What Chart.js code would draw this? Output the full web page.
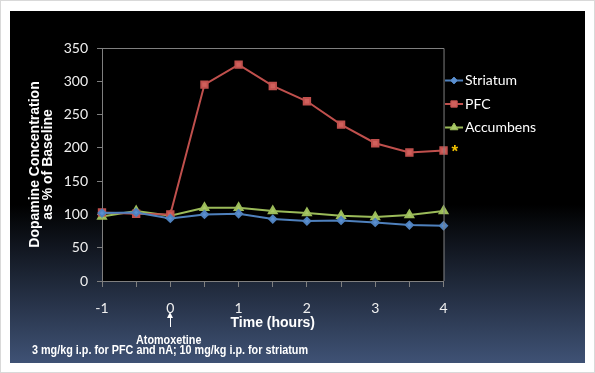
<!DOCTYPE html>
<html lang="en">
<head>
    <meta charset="UTF-8">
    <title>Dopamine Concentration</title>
    <style>
        html, body {
            margin: 0;
            padding: 0;
            background: #fff;
        }
        .frame {
            position: relative;
            width: 593px;
            height: 371px;
            border: 1px solid #d9d9d9;
            background: #fff;
            overflow: hidden;
        }
        .panel {
            position: absolute;
            left: 9px;
            top: 10px;
            width: 575px;
            height: 352px;
            background: linear-gradient(to bottom, #000 0%, #000 55%, #3f5275 100%);
        }
        .note {
            position: absolute;
            color: #fff;
            font-family: "Liberation Sans", Arial, sans-serif;
            font-weight: bold;
            font-size: 12px;
            white-space: nowrap;
            transform: scaleX(0.9);
            transform-origin: left center;
        }
        .shaft {
            position: absolute;
            left: 160px;
            top: 305px;
            width: 1px;
            height: 11px;
            background: #fff;
        }
        .head {
            position: absolute;
            left: 157px;
            top: 301px;
            width: 0;
            height: 0;
            border-left: 3.5px solid transparent;
            border-right: 3.5px solid transparent;
            border-bottom: 6px solid #fff;
        }
    </style>
</head>
<body>
    <div class="frame">
        <div class="panel">
            <canvas id="doseChart" width="575" height="352"></canvas>
            <div class="head"></div>
            <div class="shaft"></div>
            <div class="note" style="left:126px; top:322px;">Atomoxetine</div>
            <div class="note" style="left:22px; top:332px;">3 mg/kg i.p. for PFC and nA; 10 mg/kg i.p. for striatum</div>
        </div>
    </div>

    <script src="https://cdn.jsdelivr.net/npm/chart.js"></script>
    <script>
        // time points (hours)
        const hours = [-1, -0.5, 0, 0.5, 1, 1.5, 2, 2.5, 3, 3.5, 4];

        // % of baseline
        const striatum = [102, 103, 94, 100, 101, 93, 90, 91, 88, 84, 83];
        const pfc = [103, 101, 100, 295, 325, 293, 270, 235, 207, 193, 196];
        const accumbens = [97, 105, 98, 110, 110, 105, 102, 98, 96, 99, 105];

        const yTicks = [0, 50, 100, 150, 200, 250, 300, 350];
        const xTickLabels = ['-1', '0', '1', '2', '3', '4'];

        const toPoints = (vals) => vals.map((v, i) => ({ x: hours[i], y: v }));

        const tickFont = { family: 'Lato, "Open Sans", sans-serif', size: 14 };

        // black plot area, grey box round it, legend lines, star next to PFC end
        const plotBox = {
            id: 'plotBox',
            afterLayout(chart) {
                // nudge the legend closer to the plot and down a bit
                const lg = chart.legend;
                lg.left -= 5; lg.right -= 5;
                lg.top += 16; lg.bottom += 16;
            },
            beforeDraw(chart) {
                const { ctx, chartArea: a } = chart;
                ctx.save();
                ctx.fillStyle = '#000';
                ctx.fillRect(a.left, a.top, a.right - a.left, a.bottom - a.top);
                ctx.restore();
            },
            afterDraw(chart) {
                const { ctx, chartArea: a, scales } = chart;
                ctx.save();
                ctx.strokeStyle = '#7f7f7f';
                ctx.lineWidth = 1;
                ctx.beginPath();
                ctx.moveTo(a.left, a.top + 0.5);
                ctx.lineTo(a.right + 0.5, a.top + 0.5);
                ctx.lineTo(a.right + 0.5, a.bottom);
                ctx.stroke();

                chart.legend.legendHitBoxes.forEach((box, i) => {
                    const ds = chart.data.datasets[i];
                    const cy = box.top + box.height / 2;
                    ctx.strokeStyle = ds.borderColor;
                    ctx.lineWidth = 2;
                    ctx.beginPath();
                    ctx.moveTo(box.left - 3, cy);
                    ctx.lineTo(box.left + 15, cy);
                    ctx.stroke();
                    ctx.fillStyle = ds.pointBackgroundColor;
                    ctx.lineWidth = 1;
                    Chart.helpers.drawPoint(ctx, { pointStyle: ds.pointStyle, radius: ds.pointRadius, rotation: 0, borderWidth: 1 }, box.left + 6, cy);
                });

                const x = scales.x.getPixelForValue(hours[hours.length - 1]);
                const y = scales.y.getPixelForValue(pfc[pfc.length - 1]);
                ctx.fillStyle = '#f2c200';
                ctx.font = 'bold 17px "Liberation Sans", Arial, sans-serif';
                ctx.textBaseline = 'middle';
                ctx.fillText('*', x + 8, y + 2);
                ctx.restore();
            }
        };

        new Chart(document.getElementById('doseChart'), {
            type: 'line',
            data: {
                datasets: [
                    {
                        label: 'Striatum',
                        data: toPoints(striatum),
                        borderColor: '#4f81bd',
                        backgroundColor: '#4f81bd',
                        pointBackgroundColor: '#5b8fcf',
                        pointStyle: 'rectRot',
                        pointRadius: 3.5,
                        borderWidth: 2
                    },
                    {
                        label: 'PFC',
                        data: toPoints(pfc),
                        borderColor: '#c0504d',
                        backgroundColor: '#c0504d',
                        pointBackgroundColor: '#d0605c',
                        pointStyle: 'rect',
                        pointRadius: 4.5,
                        borderWidth: 2
                    },
                    {
                        label: 'Accumbens',
                        data: toPoints(accumbens),
                        borderColor: '#9bbb59',
                        backgroundColor: '#9bbb59',
                        pointBackgroundColor: '#a9c968',
                        pointStyle: 'triangle',
                        pointRadius: 4.5,
                        borderWidth: 2
                    }
                ]
            },
            options: {
                responsive: false,
                animation: false,
                clip: false,
                layout: { padding: { top: 37, right: 34, left: 0, bottom: 0 } },
                plugins: {
                    tooltip: { enabled: false },
                    legend: {
                        position: 'right',
                        align: 'start',
                        labels: {
                            color: '#fff',
                            font: { family: 'Lato, "Open Sans", sans-serif', size: 14 },
                            usePointStyle: true,
                            pointStyleWidth: 10,
                            boxHeight: 6,
                            padding: 9.5,
                            generateLabels(chart) {
                                return chart.data.datasets.map((ds, i) => ({
                                    text: ds.label,
                                    fontColor: '#fff',
                                    fillStyle: 'rgba(0,0,0,0)',
                                    strokeStyle: 'rgba(0,0,0,0)',
                                    lineWidth: 0,
                                    pointStyle: ds.pointStyle,
                                    datasetIndex: i
                                }));
                            }
                        }
                    }
                },
                scales: {
                    x: {
                        type: 'linear',
                        min: -1,
                        max: 4,
                        afterFit(scale) { scale.height = 82; },
                        ticks: {
                            stepSize: 0.5,
                            autoSkip: false,
                            maxRotation: 0,
                            color: '#f0f0f0',
                            font: tickFont,
                            padding: 13,
                            callback(value) {
                                const s = String(value);
                                return xTickLabels.includes(s) ? s : '';
                            }
                        },
                        grid: {
                            drawOnChartArea: false,
                            drawTicks: true,
                            tickLength: 6,
                            color: '#7f7f7f'
                        },
                        border: { color: '#7f7f7f' },
                        title: {
                            display: true,
                            text: 'Time (hours)',
                            color: '#fff',
                            font: { family: '"Liberation Sans", Arial, sans-serif', size: 14, weight: 'bold' },
                            padding: { top: 0, bottom: 31 }
                        }
                    },
                    y: {
                        min: 0,
                        max: 350,
                        afterFit(scale) { scale.width = 92; },
                        afterBuildTicks(scale) { scale.ticks = yTicks.map(v => ({ value: v })); },
                        ticks: {
                            color: '#f0f0f0',
                            font: tickFont,
                            padding: 9
                        },
                        grid: {
                            drawOnChartArea: false,
                            drawTicks: true,
                            tickLength: 5,
                            color: '#7f7f7f'
                        },
                        border: { color: '#7f7f7f' },
                        title: {
                            display: true,
                            text: ['Dopamine Concentration', 'as % of Baseline'],
                            color: '#fff',
                            font: { family: '"Liberation Sans", Arial, sans-serif', size: 14, weight: 'bold', lineHeight: '13px' },
                            padding: { top: 19, bottom: 0 }
                        }
                    }
                }
            },
            plugins: [plotBox]
        });
    </script>
</body>
</html>
